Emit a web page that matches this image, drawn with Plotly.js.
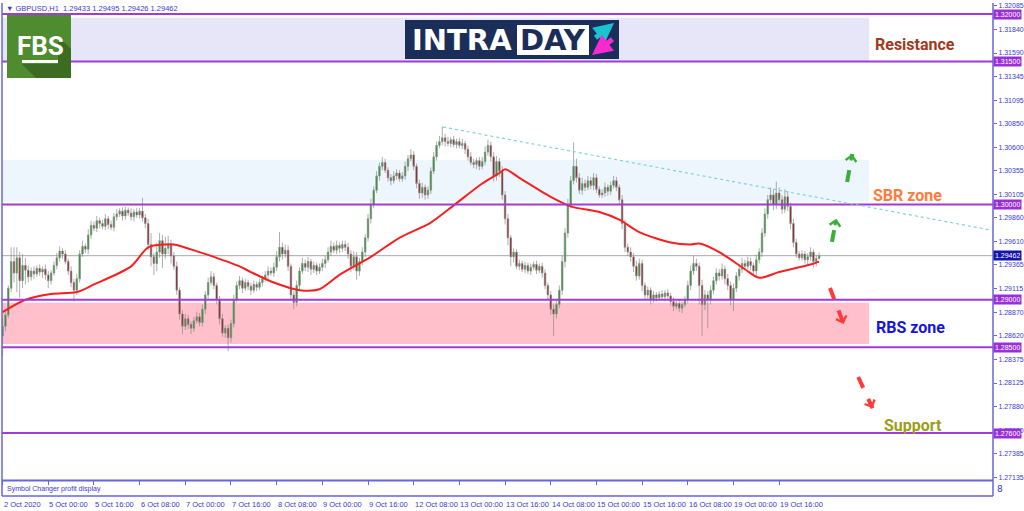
<!DOCTYPE html>
<html><head><meta charset="utf-8">
<script src="https://cdn.plot.ly/plotly-3.0.1.min.js"></script>
<style>html,body{margin:0;padding:0;background:#fff;}#chart{width:1024px;height:511px;}</style>
</head><body><div id="chart"></div>
<script>
// ---------- DATA ----------
const headerText = '▼ GBPUSD,H1  1.29433 1.29495 1.29426 1.29462';
const firstOpen = 1.2862;
const closes = [
1.2872,1.2884,1.2912,1.2940,1.2928,1.2944,1.2920,1.2936,1.2931,1.2924,
1.2930,1.2927,1.2933,1.2929,1.2932,1.2926,1.2920,1.2928,1.2936,1.2944,
1.2951,1.2948,1.2940,1.2930,1.2918,1.2910,1.2922,1.2948,1.2956,1.2953,
1.2968,1.2978,1.2975,1.2983,1.2980,1.2977,1.2985,1.2979,1.2976,1.2987,
1.2990,1.2993,1.2988,1.2994,1.2991,1.2987,1.2992,1.2989,1.2993,1.2986,
1.2980,1.2958,1.2945,1.2938,1.2950,1.2962,1.2948,1.2954,1.2958,1.2946,
1.2935,1.2910,1.2885,1.2872,1.2880,1.2874,1.2870,1.2878,1.2882,1.2876,
1.2890,1.2905,1.2918,1.2924,1.2915,1.2900,1.2880,1.2865,1.2870,1.2860,
1.2875,1.2900,1.2915,1.2920,1.2912,1.2918,1.2914,1.2910,1.2916,1.2913,
1.2918,1.2922,1.2926,1.2930,1.2928,1.2934,1.2945,1.2955,1.2948,1.2952,
1.2935,1.2905,1.2897,1.2915,1.2930,1.2938,1.2934,1.2940,1.2932,1.2936,
1.2930,1.2934,1.2938,1.2942,1.2950,1.2956,1.2952,1.2957,1.2954,1.2958,
1.2955,1.2948,1.2935,1.2945,1.2930,1.2940,1.2950,1.2965,1.2985,1.3000,
1.3015,1.3030,1.3040,1.3044,1.3036,1.3028,1.3025,1.3030,1.3033,1.3027,
1.3030,1.3040,1.3048,1.3052,1.3040,1.3022,1.3012,1.3018,1.3010,1.3015,
1.3035,1.3050,1.3062,1.3066,1.3070,1.3066,1.3064,1.3068,1.3063,1.3066,
1.3062,1.3064,1.3058,1.3050,1.3044,1.3042,1.3046,1.3040,1.3045,1.3055,
1.3062,1.3050,1.3030,1.3045,1.3035,1.3010,1.2985,1.2965,1.2945,1.2950,
1.2935,1.2938,1.2932,1.2936,1.2930,1.2934,1.2937,1.2931,1.2935,1.2928,
1.2915,1.2905,1.2890,1.2885,1.2895,1.2910,1.2940,1.2970,1.3000,1.3025,
1.3040,1.3028,1.3015,1.3022,1.3018,1.3025,1.3020,1.3028,1.3016,1.3010,
1.3012,1.3018,1.3014,1.3020,1.3025,1.3018,1.3005,1.2980,1.2955,1.2950,
1.2945,1.2935,1.2925,1.2938,1.2915,1.2905,1.2910,1.2900,1.2905,1.2902,
1.2906,1.2903,1.2907,1.2904,1.2898,1.2893,1.2896,1.2891,1.2895,1.2900,
1.2915,1.2930,1.2938,1.2935,1.2915,1.2895,1.2905,1.2900,1.2910,1.2920,
1.2928,1.2925,1.2932,1.2922,1.2915,1.2900,1.2912,1.2925,1.2932,1.2938,
1.2935,1.2940,1.2936,1.2930,1.2942,1.2950,1.2970,1.2990,1.3005,1.3010,
1.3000,1.3012,1.3005,1.2995,1.3008,1.2998,1.2980,1.2960,1.2948,1.2944,
1.2948,1.2942,1.2945,1.2950,1.2940,1.29433,1.29462];
// wick lengths in pips above max(open,close) / below min(open,close)
const upWickPips = [
8,4,3,15,15,11,6,12,8,5, 4,5,3,4,3,5,4,3,4,5, 5,3,4,3,5,4,5,4,6,3, 6,5,4,5,3,4,5,3,4,4,
5,3,4,4,3,5,3,4,3,14, 4,5,12,4,10,8,6,12,9,5, 4,5,3,4,5,4,3,4,5,4, 5,4,5,6,4,3,4,5,3,4,
4,5,4,5,3,4,3,4,4,3, 4,3,4,5,4,5,6,16,5,6, 5,3,4,5,4,6,4,5,3,4, 3,4,5,4,5,6,4,5,3,4,
4,5,4,6,5,4,5,4,5,6, 4,5,4,6,4,3,4,5,4,3, 4,5,4,6,4,3,4,5,3,4, 4,5,4,6,12,4,5,3,4,3,
4,5,3,4,5,4,3,4,5,6, 6,4,5,6,4,5,4,5,3,4, 3,4,3,4,3,4,3,4,3,4, 4,3,4,5,4,5,6,5,6,5,
25,8,5,6,4,5,4,5,4,3, 4,5,3,4,5,4,3,5,4,4, 5,4,6,5,4,3,4,3,4,3, 3,4,3,4,3,4,3,4,3,4,
5,6,8,5,4,6,5,4,5,4, 5,4,6,4,5,4,5,4,5,6, 4,5,4,3,5,4,5,6,5,8, 6,12,6,5,8,6,4,5,4,3,
4,3,4,5,3,4,3.3];
const dnWickPips = [
21,5,3,4,10,20,18,8,15,6, 4,5,3,4,6,5,8,4,3,4, 4,5,3,4,5,12,5,4,3,4, 5,4,3,4,5,3,4,5,3,4,
4,3,5,4,3,4,5,3,4,4, 5,6,10,12,8,6,15,5,6,8, 4,5,6,8,4,5,6,4,3,4, 4,5,4,3,4,5,6,4,5,14,
5,4,3,4,5,3,4,5,3,4, 3,4,3,4,3,4,4,5,6,4, 5,4,7,4,5,3,4,5,6,4, 4,3,4,5,3,4,3,4,5,4,
4,5,6,4,9,5,4,5,4,5, 4,3,5,4,3,4,5,3,4,3, 3,4,5,3,4,5,6,5,5,4, 4,3,4,3,4,5,3,4,3,4,
3,4,5,4,3,4,5,4,3,4, 4,5,6,5,6,5,6,8,10,6, 3,4,3,4,3,4,3,4,3,5, 4,5,6,23,5,4,5,6,5,4,
4,5,4,5,4,3,4,5,4,3, 3,4,5,4,3,4,5,6,5,4, 5,6,5,4,6,5,4,5,3,4, 3,4,5,3,4,5,3,4,5,3,
4,5,4,5,20,33,6,30,5,4, 4,5,4,6,5,6,12,4,5,4, 4,3,5,4,5,4,5,4,5,4, 6,5,6,5,4,5,6,5,4,3,
3,4,5,4,6,5,0.7];
const maBars   = [0,8,17,26,32,45,51,57,60,69,74,83,87,95,104,111,118,129,139,150,158,168,174,176,181,192,199,209,216,223,234,241,244,251,260,265,272,283,286];
const maValues = [1.2887,1.2900,1.2906,1.2908,1.2916,1.2935,1.2955,1.2958,1.2958,1.2950,1.2945,1.2935,1.2929,1.2918,1.2910,1.2911,1.2926,1.2945,1.2965,1.2981,1.2999,1.3022,1.3033,1.3037,1.3028,1.3008,1.2998,1.2992,1.2984,1.2971,1.2960,1.2958,1.2959,1.2950,1.2932,1.2923,1.2929,1.2937,1.2940];
const xTickBars   = [0,16,32,48,64,80,96,112,128,144,160,176,192,208,224,240,256,272];
const xTickLabels = ['2 Oct 2020','5 Oct 00:00','5 Oct 16:00','6 Oct 08:00','7 Oct 00:00','7 Oct 16:00','8 Oct 08:00','9 Oct 00:00','9 Oct 16:00','12 Oct 08:00','13 Oct 00:00','13 Oct 16:00','14 Oct 08:00','15 Oct 00:00','15 Oct 16:00','16 Oct 08:00','19 Oct 00:00','19 Oct 16:00'];
const yTickVals = [1.32085,1.31840,1.31590,1.31345,1.31095,1.30850,1.30600,1.30355,1.30105,1.29860,1.29610,1.29365,1.29115,1.28870,1.28620,1.28375,1.28125,1.27880,1.27630,1.27385,1.27135];
const levelPrices = [1.32000,1.31500,1.30000,1.29000,1.28500,1.27600];
const lastPrice = 1.29462;
const resistanceZone = [1.3150,1.3196];
const sbrZone = [1.3003,1.3047];
const rbsZone = [1.28535,1.28968];
const trendStart = [154.3,1.30813];
const trendEnd   = [346.0,1.29732];
const zoneEndBar = 303.5;

// ---------- BUILD ----------
const idx = closes.map((_, i) => i);
const opens = closes.map((c, i) => i === 0 ? firstOpen : closes[i - 1]);
const highs = closes.map((c, i) => Math.max(opens[i], c) + upWickPips[i] / 10000);
const lows  = closes.map((c, i) => Math.min(opens[i], c) - dnWickPips[i] / 10000);

const PL = 2, PR = 993, PT = 3, PB = 496;
const px = x => (x - PL) / (PR - PL);
const py = y => (PB - y) / (PB - PT);
const AX = '#6666dd', TXT = '#3a3acc', PURPLE = '#a03ad8';
const SMALL = 'Liberation Sans';

const shapes = [];
[[resistanceZone, '#e6e6f8'], [sbrZone, '#eef6fd'], [rbsZone, '#ffc0cb']].forEach(([z, c]) => {
  shapes.push({type:'rect', xref:'x', yref:'y', x0:-0.2, x1:zoneEndBar, y0:z[0], y1:z[1], fillcolor:c, line:{width:0}, layer:'below'});
});
shapes.push({type:'line', xref:'paper', yref:'y', x0:0, x1:1, y0:lastPrice, y1:lastPrice, line:{color:'#a8a8a8', width:1}, layer:'below'});
levelPrices.forEach(p => shapes.push({type:'line', xref:'paper', yref:'y', x0:0, x1:1, y0:p, y1:p, line:{color:PURPLE, width:2}}));
shapes.push({type:'line', xref:'x', yref:'y', x0:trendStart[0], y0:trendStart[1], x1:trendEnd[0], y1:trendEnd[1], line:{color:'#7fd3d8', width:1.2, dash:'dot'}});

const arrows = [
  [290.5,1.29606,292.0,1.29850,'#3aad3a',-1.5,8],
  [295.8,1.30236,297.6,1.30530,'#3aad3a',-1.5,8],
  [289.8,1.29123,294.6,1.28745,'#ff3b3b',-2.8,-7.5],
  [299.7,1.28188,304.7,1.27860,'#ff3b3b',-3.3,-7.3]
];
arrows.forEach(a => shapes.push({type:'line', xref:'x', yref:'y', x0:a[0], y0:a[1], x1:a[2], y1:a[3], line:{color:a[4], width:4, dash:'dash'}}));

// frame
shapes.push({type:'line', xref:'paper', yref:'paper', x0:0, x1:0, y0:0, y1:1, line:{color:AX, width:1.5}});
shapes.push({type:'line', xref:'paper', yref:'paper', x0:1, x1:1, y0:0, y1:1, line:{color:AX, width:1.5}});
shapes.push({type:'line', xref:'paper', yref:'paper', x0:0, x1:1, y0:py(480.5), y1:py(480.5), line:{color:AX, width:2}});
shapes.push({type:'line', xref:'paper', yref:'paper', x0:0, x1:1, y0:0, y1:0, line:{color:AX, width:1.5}});

// FBS logo
const rectPx = (x0,y0,x1,y1,c) => ({type:'rect', xref:'paper', yref:'paper', x0:px(x0), x1:px(x1), y0:py(y1), y1:py(y0), fillcolor:c, line:{width:0}});
shapes.push(rectPx(7,15,71,78,'#4f8c2f'));
const shadowPts = [[58,36],[71,49],[71,78],[36,78],[22,64],[58,64]];
shapes.push({type:'path', xref:'paper', yref:'paper', path:'M' + shadowPts.map(p => px(p[0]) + ',' + py(p[1])).join(' L') + ' Z', fillcolor:'#3c6b22', line:{width:0}});
shapes.push(rectPx(22,60,58,63,'#ffffff'));
// INTRADAY logo
shapes.push(rectPx(405,20,619,59,'#1b2e5a'));
shapes.push(rectPx(517,25,589,55,'#ffffff'));

const annotations = [];
const annPx = (x, y, text, font, extra) => Object.assign({xref:'paper', yref:'paper', x:px(x), y:py(y), xanchor:'center', yanchor:'middle', text, showarrow:false, font}, extra || {});
annotations.push(annPx(4, 8, headerText, {family:SMALL, size:7.5, color:TXT}, {xanchor:'left'}));
annotations.push(annPx(40, 46, 'FBS', {family:'Roboto', size:26, weight:'bold', color:'#ffffff'}));
annotations.push(annPx(462, 40, 'INTRA', {family:'DejaVu Sans', size:29, weight:'bold', color:'#ffffff'}));
annotations.push(annPx(553, 40, 'DAY', {family:'DejaVu Sans', size:29, weight:'bold', color:'#1b2e5a'}));
annotations.push(annPx(614, 23, '', {size:1}, {showarrow:true, arrowhead:2, arrowsize:0.8, arrowwidth:5, arrowcolor:'#19c3d0', ax:-20, ay:16}));
annotations.push(annPx(592, 55, '', {size:1}, {showarrow:true, arrowhead:2, arrowsize:0.8, arrowwidth:5, arrowcolor:'#f72ad0', ax:22, ay:-17}));
annotations.push(annPx(5, 488.5, 'Symbol Changer profit display', {family:SMALL, size:7, color:TXT}, {xanchor:'left'}));
annotations.push({xref:'paper', yref:'paper', x:1, y:py(489), xanchor:'left', yanchor:'middle', xshift:2, text:'8', showarrow:false, font:{family:'DejaVu Sans', size:9, color:TXT}});

// x-axis labels, left-aligned at their tick like the terminal does
xTickBars.forEach((b, i) => annotations.push({xref:'x', yref:'paper', x:b, y:py(504), xanchor:'left', yanchor:'middle', xshift:-1,
  text:xTickLabels[i], showarrow:false, font:{family:SMALL, size:7.5, color:TXT}}));

arrows.forEach(a => annotations.push({xref:'x', yref:'y', x:a[2], y:a[3], text:'', showarrow:true, arrowhead:4, arrowsize:0.7, arrowwidth:3, arrowcolor:a[4], ax:a[5], ay:a[6]}));

const lbl = (bar, price, text, color) => ({xref:'x', yref:'y', x:bar, y:price, text, showarrow:false, xanchor:'left', yanchor:'middle', font:{family:'Roboto', size:16, weight:'bold', color}});
annotations.push(lbl(305.0, 1.31685, 'Resistance', '#a1391d'));
annotations.push(lbl(304.3, 1.30099, 'SBR zone', '#ff7b3a'));
annotations.push(lbl(305.3, 1.28713, 'RBS zone', '#1515e0'));
annotations.push(lbl(308.0, 1.27674, 'Support', '#9d9d18'));

levelPrices.forEach(p => annotations.push({xref:'paper', yref:'y', x:1, y:p, xanchor:'left', yanchor:'middle', text:p.toFixed(5), showarrow:false, bgcolor:'#9b2fd6', borderpad:1, font:{family:SMALL, size:7, color:'#ffffff'}}));
annotations.push({xref:'paper', yref:'y', x:1, y:lastPrice, xanchor:'left', yanchor:'middle', text:lastPrice.toFixed(5), showarrow:false, bgcolor:'#1414a8', borderpad:1, font:{family:SMALL, size:7, color:'#ffffff'}});

const candles = {
  type:'candlestick', x:idx, open:opens, high:highs, low:lows, close:closes,
  increasing:{line:{color:'#8a8a8a', width:0.7}, fillcolor:'#1f9a1f'},
  decreasing:{line:{color:'#8a8a8a', width:0.7}, fillcolor:'#8b1212'},
  whiskerwidth:0, hoverinfo:'skip', xaxis:'x', yaxis:'y'
};
const ma = {type:'scatter', mode:'lines', x:maBars, y:maValues, line:{color:'#f52020', width:2, shape:'spline', smoothing:0.8}, hoverinfo:'skip', xaxis:'x', yaxis:'y'};

const layout = {
  width:1024, height:511,
  margin:{l:PL, r:1024 - PR, t:PT, b:511 - PB, pad:0},
  paper_bgcolor:'#ffffff', plot_bgcolor:'#ffffff',
  showlegend:false, boxgap:0.25,
  xaxis:{range:[-0.2, 346.9], anchor:'y2', tickvals:xTickBars, ticks:'outside', ticklen:4, tickcolor:AX, showticklabels:false,
         showgrid:false, zeroline:false, showline:false, rangeslider:{visible:false}, fixedrange:true, automargin:false},
  yaxis:{domain:[16/493, 1], range:[1.271066, 1.321155], side:'right', anchor:'x', tickvals:yTickVals, ticktext:yTickVals.map(v => v.toFixed(5)),
         ticks:'outside', ticklen:3, tickcolor:AX, tickfont:{family:SMALL, size:7, color:TXT}, showgrid:false, zeroline:false, showline:false, fixedrange:true, automargin:false},
  yaxis2:{domain:[0, 15/493], range:[0,1], anchor:'x', showticklabels:false, showgrid:false, zeroline:false, ticks:'', fixedrange:true},
  shapes, annotations
};
Plotly.newPlot('chart', [candles, ma], layout, {staticPlot:true, displayModeBar:false});
</script></body></html>
